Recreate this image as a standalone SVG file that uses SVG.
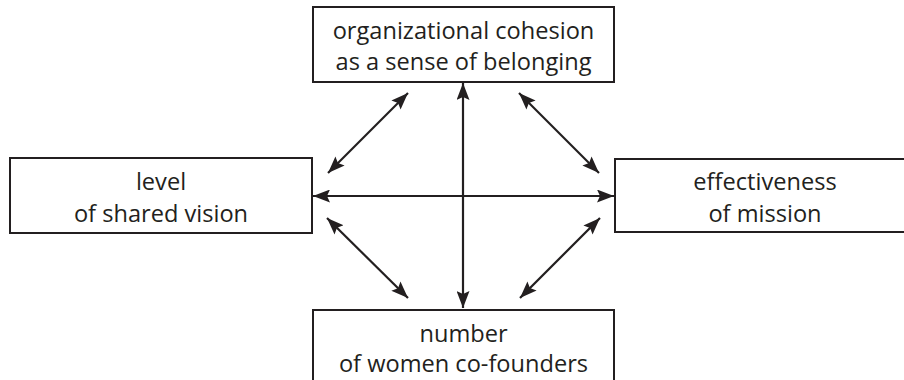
<svg xmlns="http://www.w3.org/2000/svg" width="904" height="380" viewBox="0 0 904 380">
<style>
.box{fill:#fff;stroke:#231f20;stroke-width:2}
.t{font-family:"Open Sans","Noto Sans",sans-serif;font-size:23.6px;fill:#231f20;text-anchor:middle}
.c{stroke:#231f20;stroke-width:2.2;fill:none;marker-start:url(#ah);marker-end:url(#ah)}
</style>
<defs>
<marker id="ah" viewBox="0 0 17 13" refX="17" refY="6.5" markerWidth="17" markerHeight="13" markerUnits="userSpaceOnUse" orient="auto-start-reverse">
<path d="M0,0 L17,6.5 L0,13 L3,6.5 Z" fill="#231f20"/>
</marker>
</defs>
<rect width="904" height="380" fill="#fff"/>
<g id="connectors">
<line class="c" x1="463" y1="308" x2="463" y2="83"/>
<line class="c" x1="313" y1="196" x2="614" y2="196"/>
<line class="c" x1="328" y1="173" x2="408" y2="93"/>
<line class="c" x1="519" y1="93" x2="599" y2="173"/>
<line class="c" x1="327" y1="218" x2="408" y2="298"/>
<line class="c" x1="600" y1="218" x2="520" y2="298"/>
</g>
<g id="top">
<rect class="box" x="313" y="7" width="301" height="75"/>
<text class="t" x="463.5" y="39">organizational cohesion</text>
<text class="t" x="463.5" y="70">as a sense of belonging</text>
</g>
<g id="left">
<rect class="box" x="10" y="158" width="302" height="75"/>
<text class="t" x="161" y="190">level</text>
<text class="t" x="161" y="222">of shared vision</text>
</g>
<g id="right">
<rect class="box" x="615" y="159" width="300" height="73"/>
<text class="t" x="765" y="190">effectiveness</text>
<text class="t" x="765" y="222">of mission</text>
</g>
<g id="bottom">
<rect class="box" x="313" y="310" width="301" height="80"/>
<text class="t" x="463.5" y="342">number</text>
<text class="t" x="463.5" y="372">of women co-founders</text>
</g>
</svg>
